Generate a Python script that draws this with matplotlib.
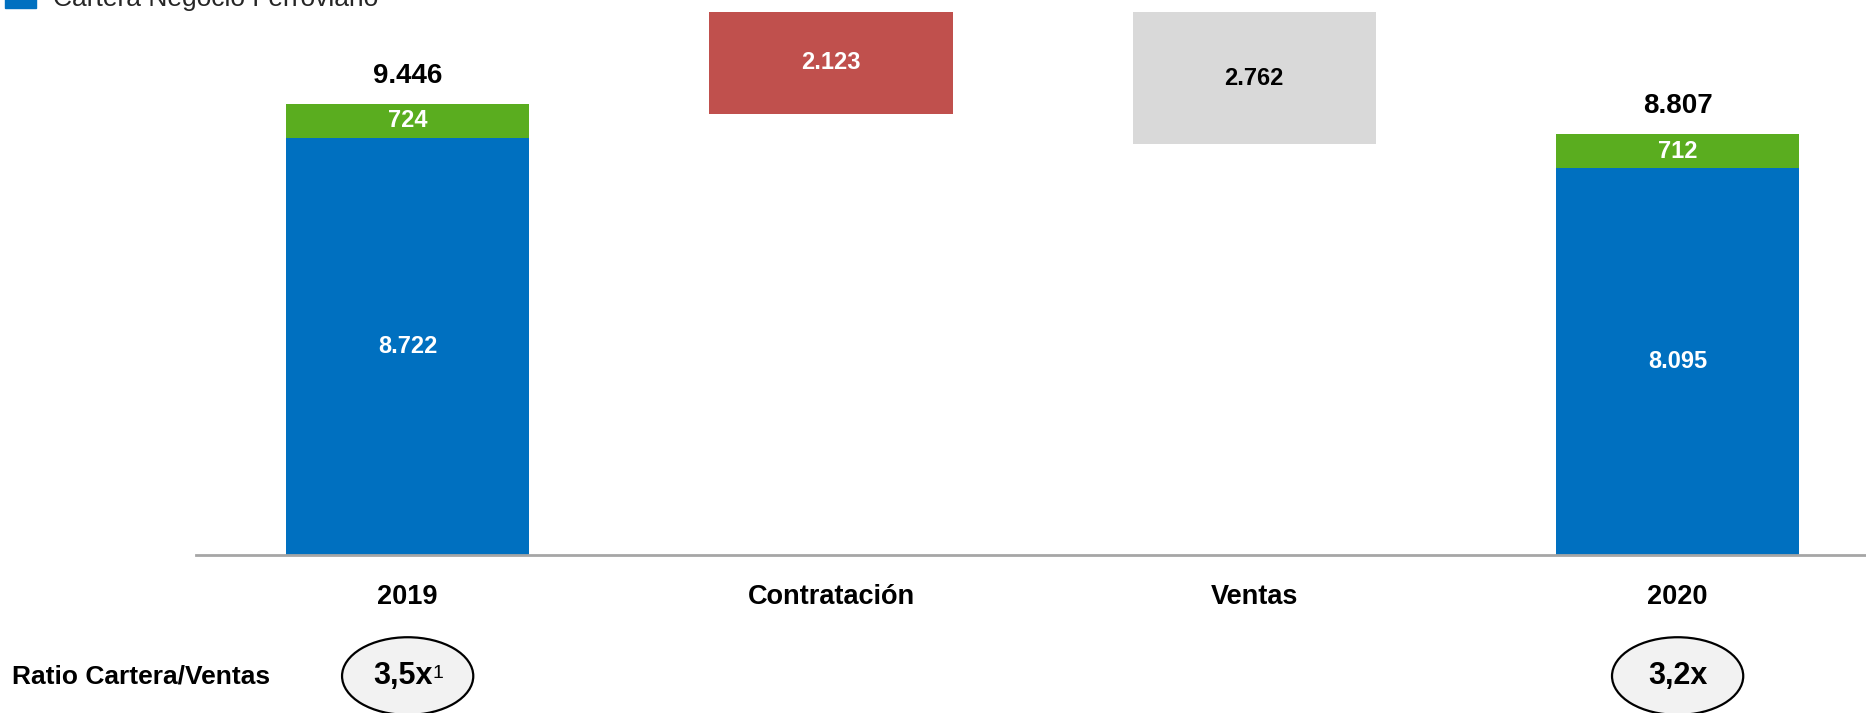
import matplotlib
matplotlib.use("Agg")
import matplotlib.pyplot as plt
from matplotlib.patches import Ellipse, Patch

# ---- data ----
categories = ["2019", "Contratación", "Ventas", "2020"]
cartera_ferroviario = [8722, 8095]      # blue, 2019 & 2020
otros = [724, 712]                      # green, 2019 & 2020
totals = [9446, 8807]
contratacion = 2123
ventas = 2762
bridge_top = 11360                      # level of the floating bars as drawn
ratios = ["3,5x", "3,2x"]
ratio_notes = ["1", ""]
legend_label = "Cartera Negocio Ferroviario"
ratio_title = "Ratio Cartera/Ventas"

BLUE = "#0070C0"
GREEN = "#5AAD1F"
RED = "#C0504D"
GREY = "#D9D9D9"

FAM = ["Liberation Sans Narrow", "Liberation Sans", "DejaVu Sans"]
plt.rcParams["font.family"] = FAM

def fmt(v):
    return f"{v:,}".replace(",", ".")

fig = plt.figure(figsize=(18.66, 7.13), dpi=100)
ax = fig.add_axes([196 / 1866, 1 - 554.6 / 713, 1 - 196 / 1866, 554.6 / 713])

xs = [0, 1, 2, 3]
w = 0.575
end_x = [xs[0], xs[3]]

ax.bar(end_x, cartera_ferroviario, width=w, color=BLUE)
ax.bar(end_x, otros, width=w, bottom=cartera_ferroviario, color=GREEN)
ax.bar(xs[1], contratacion, width=w, bottom=bridge_top - contratacion, color=RED)
ax.bar(xs[2], ventas, width=w, bottom=bridge_top - ventas, color=GREY)

for x, b, g, t in zip(end_x, cartera_ferroviario, otros, totals):
    ax.text(x, b / 2, fmt(b), ha="center", va="center", color="white",
            fontsize=17, fontweight="bold")
    ax.text(x, b + g / 2, fmt(g), ha="center", va="center", color="white",
            fontsize=17, fontweight="bold")
    ax.annotate(fmt(t), (x, t), xytext=(0, 20), textcoords="offset points",
                ha="center", va="center", color="black", fontsize=20,
                fontweight="bold")

ax.text(xs[1], bridge_top - contratacion / 2, fmt(contratacion), ha="center",
        va="center", color="white", fontsize=17, fontweight="bold")
ax.text(xs[2], bridge_top - ventas / 2, fmt(ventas), ha="center",
        va="center", color="black", fontsize=17, fontweight="bold")

ax.set_xlim(-0.5, 3.445)
ax.set_ylim(0, 11615)
for s in ["top", "right", "left"]:
    ax.spines[s].set_visible(False)
ax.spines["bottom"].set_color("#A6A6A6")
ax.spines["bottom"].set_linewidth(2)
ax.set_yticks([])
ax.set_xticks(xs)
ax.set_xticklabels(categories, fontsize=19.5, fontweight="bold")
ax.tick_params(axis="x", length=0, pad=21)

# ratio row
tr = ax.get_xaxis_transform()
for x, r, n in zip(end_x, ratios, ratio_notes):
    e = Ellipse((x, -0.219), width=0.31, height=0.14, transform=tr,
                facecolor="#F2F2F2", edgecolor="black", linewidth=1.6,
                clip_on=False)
    ax.add_patch(e)
    t = ax.text(x - (0.012 if n else 0), -0.219, r, transform=tr, ha="center",
                va="center", fontsize=22, fontweight="bold")
    if n:
        ax.annotate(n, xy=(1.0, 0.88), xycoords=t, ha="left", va="top",
                    fontsize=14)

fig.text(12 / 1866, 1 - 676 / 713, ratio_title, ha="left", va="center",
         fontsize=19, fontweight="bold")

fig.legend(handles=[Patch(color=BLUE, label=legend_label)],
           loc="center left", bbox_to_anchor=(5 / 1866, 1.002), frameon=False,
           fontsize=19, handlelength=1.17, handleheight=0.9,
           handletextpad=0.64, borderaxespad=0, borderpad=0.0,
           labelcolor="#262626")

fig.savefig("out.png", dpi=100)
